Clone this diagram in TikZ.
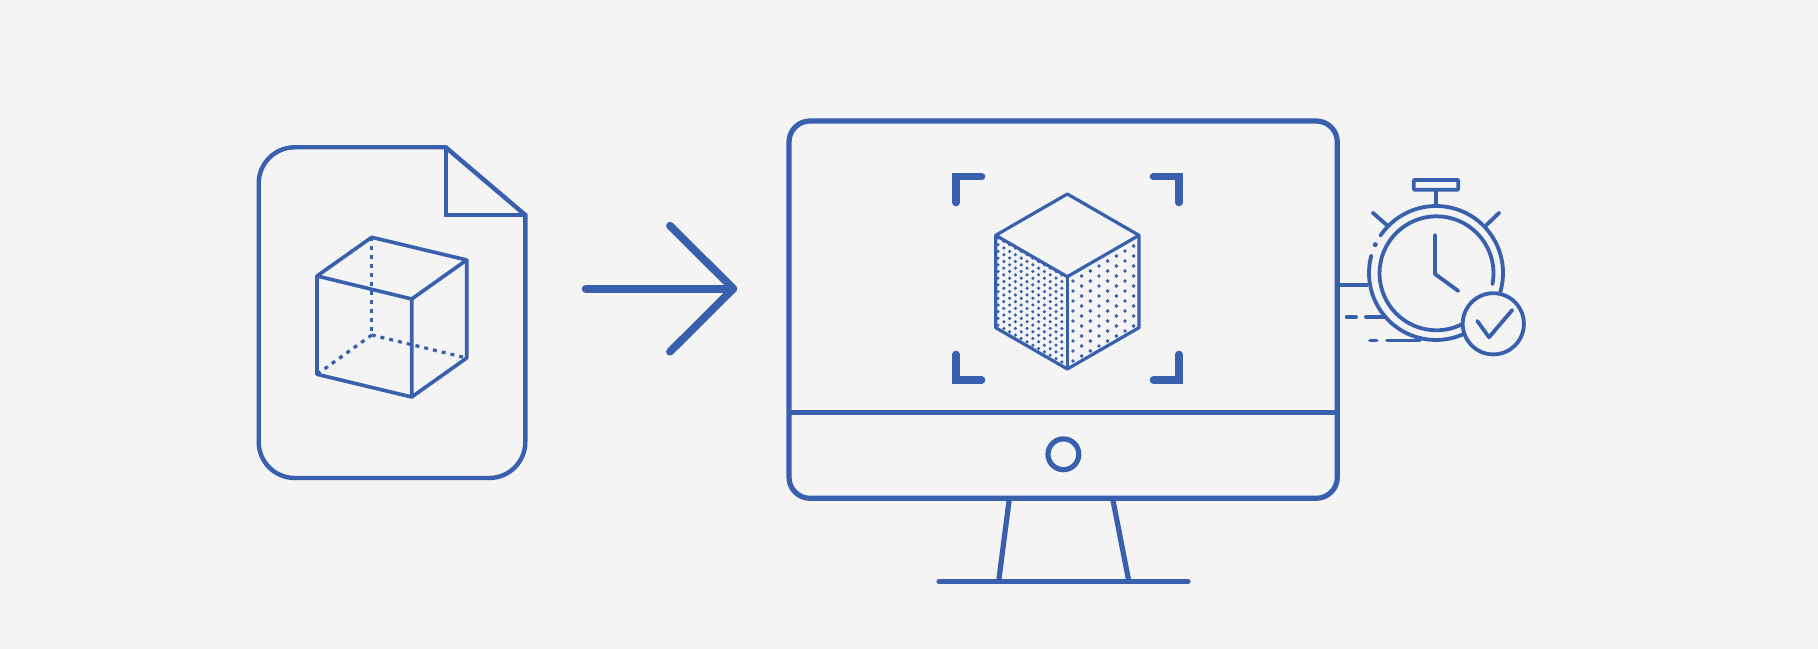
\documentclass[tikz,border=0pt]{standalone}
\usepackage{tikz}
\usepackage{color}
\definecolor{sapphire}{RGB}{56, 96, 172}
\definecolor{paper}{RGB}{244, 244, 244}

\tikzset{
    docline/.style={color=sapphire, line width=0.044cm},
    cubeline/.style={color=sapphire, line width=0.036cm, line join=round},
    screenline/.style={color=sapphire, line width=0.052cm},
    watchline/.style={color=sapphire, line width=0.038cm, line cap=round},
    hiddenline/.style={color=sapphire, line width=0.032cm, dash pattern=on 0.04cm off 0.05cm},
    cornerline/.style={color=sapphire, line width=0.072cm, line cap=round},
    arrowline/.style={color=sapphire, line width=0.078cm, line cap=round, line join=round}
}

\begin{document}
\begin{tikzpicture}[x=0.01cm, y=-0.01cm]
            \fill[paper] (0,0) rectangle (1818,649);

            % file
            \draw[docline] (445.7,147.3) [rounded corners=0.36cm] -- (258.7,147.3) -- (258.7,478) -- (525.3,478) -- (525.3,300)
                 [sharp corners] -- (525.3,215) -- cycle;
            \draw[docline] (445.7,147.3) -- (445.7,215) -- (525.3,215);
            \draw[hiddenline] (371.7,237.3) -- (371.7,335);
            \draw[hiddenline] (371.7,335) -- (317,374.3);
            \draw[hiddenline] (371.7,335) -- (466.7,358);
            \draw[cubeline] (317,276) -- (371.7,237.3) -- (466.7,260) -- (411.7,299) -- cycle;
            \draw[cubeline] (317,276) -- (317,374.3) -- (411.7,397) -- (411.7,299);
            \draw[cubeline] (411.7,397) -- (466.7,358) -- (466.7,260);

            % arrow
            \draw[arrowline] (585.7,288.7) -- (733.3,288.7);
            \draw[arrowline] (670,225.7) -- (733.3,288.7) -- (670,351.7);

            % monitor
            \draw[screenline, rounded corners=0.21cm] (789,121) rectangle (1337.3,498.3);
            \draw[screenline] (789,412.3) -- (1337.3,412.3);
            \draw[screenline] (1063.4,454.3) circle (15.4);
            \draw[screenline] (1009.4,498.3) -- (998.6,581.7);
            \draw[screenline] (1112.6,498.3) -- (1128.9,581.7);
            \draw[screenline, line cap=round] (939,581.7) -- (1188,581.7);

            % corners of the view
            \draw[cornerline] (981.7,176.7) -- (956,176.7) -- (956,202.7);
            \draw[cornerline] (1153.3,176.7) -- (1179,176.7) -- (1179,202.7);
            \draw[cornerline] (981.7,380) -- (956,380) -- (956,354.3);
            \draw[cornerline] (1153.3,380) -- (1179,380) -- (1179,354.3);

            % shaded cube
            \begin{scope}
                \clip (995.7,235.3) -- (1067.3,276.7) -- (1067.3,369) -- (995.7,327.7) -- cycle;
                \foreach \i in {0,...,13}
                    \foreach \j in {-1,...,22}
                        \fill[sapphire] (998+5.8*\i, 238+3.35*\i+6.7*\j) circle (1.75);
            \end{scope}
            \begin{scope}
                \clip (1067.3,276.7) -- (1139,235.3) -- (1139,327.7) -- (1067.3,369) -- cycle;
                \foreach \i in {0,...,9}
                    \foreach \j in {-1,...,11}
                        \fill[sapphire] (1073+8.66*\i, 281-5*\i+10*\j) circle (1.95);
            \end{scope}
            \draw[cubeline, line width=0.032cm] (1067.3,194) -- (1139,235.3) -- (1139,327.7) -- (1067.3,369)
                 -- (995.7,327.7) -- (995.7,235.3) -- cycle;
            \draw[cubeline, line width=0.032cm] (995.7,235.3) -- (1067.3,276.7) -- (1139,235.3);
            \draw[cubeline] (1067.3,276.7) -- (1067.3,369);

            % stopwatch
            \draw[watchline, line cap=butt] (1337.3,285.3) -- (1368.3,285.3);
            \draw[watchline] ([shift={(16:67)}]1436,273) arc[start angle=16, end angle=-146, radius=67];
            \fill[sapphire] ([shift={(-155:67)}]1436,273) circle (2.5);
            \draw[watchline] ([shift={(-165:67)}]1436,273) arc[start angle=-165, end angle=-293, radius=67];
            \draw[watchline] ([shift={(11:57)}]1436.5,273.3) arc[start angle=11, end angle=-297, radius=57];
            \draw[watchline, line cap=butt] (1436,189.7) -- (1436,206);
            \draw[watchline, line cap=butt, rounded corners=0.01cm] (1413.7,180) rectangle (1458.3,189.7);
            \draw[watchline] (1372.7,212.7) -- (1386.7,225);
            \draw[watchline] (1499.3,212.7) -- (1485.7,225.7);
            \draw[watchline, line join=round] (1435,235) -- (1435,274) -- (1458.3,291);
            \draw[watchline] (1346.7,317) -- (1356,317);
            \draw[watchline] (1366,317) -- (1384,317);
            \draw[watchline] (1370,340.5) -- (1376.7,340.5);
            \draw[watchline] (1387,340.5) -- (1420,340.5);
            \filldraw[watchline, fill=paper] (1493.3,323.8) circle (30.6);
            \draw[watchline, line join=round] (1477.3,321) -- (1489,337.3) -- (1512.3,310);
\end{tikzpicture}
\end{document}
